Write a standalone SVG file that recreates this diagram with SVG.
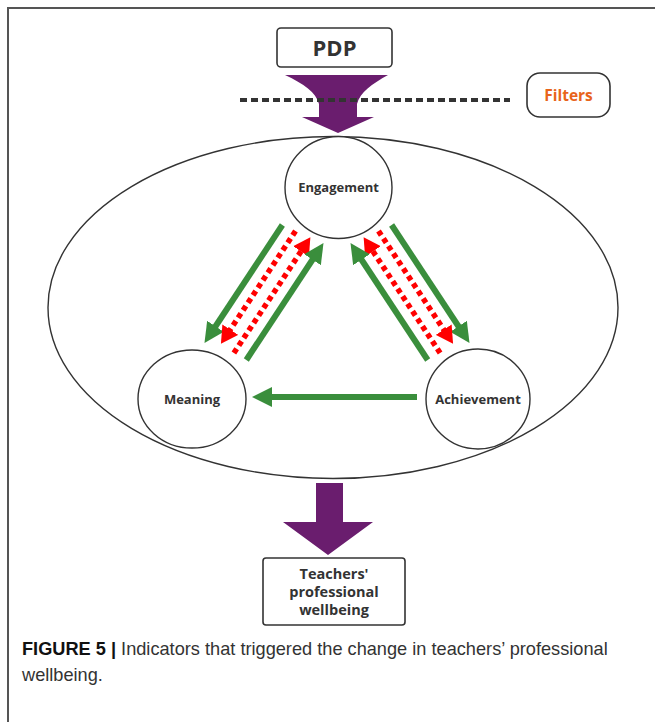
<svg xmlns="http://www.w3.org/2000/svg" width="657" height="722" viewBox="0 0 657 722">
<style>
.frame{stroke:#555;stroke-width:2;fill:none}
.node{fill:#fff;stroke:#333;stroke-width:1.4}
.box{fill:#fff;stroke:#333;stroke-width:1.6}
.lbl{font-family:"Open Sans","Noto Sans",sans-serif;font-weight:700;fill:#333;text-anchor:middle}
.g{stroke:#3a8e3c;stroke-width:6;fill:none}
.r{stroke:#ff0000;stroke-width:5.5;stroke-dasharray:5 4;fill:none}
.purple{fill:#6a1d6e}
.cap{font-family:"Liberation Sans",Arial,sans-serif;font-size:18.2px;fill:#333}
</style>
<defs>
<marker id="gh" markerUnits="userSpaceOnUse" viewBox="0 0 20 20" markerWidth="20" markerHeight="20" refX="2" refY="10" orient="auto">
<path d="M0,0 L20,10 L0,20 z" fill="#3a8e3c"/>
</marker>
<marker id="rh" markerUnits="userSpaceOnUse" viewBox="0 0 17 19" markerWidth="17" markerHeight="19" refX="2" refY="9.5" orient="auto">
<path d="M0,0 L17,9.5 L0,19 z" fill="#ff0000"/>
</marker>
</defs>
<rect width="657" height="722" fill="#fff"/>
<path class="frame" d="M8,722 L8,8 L655,8"/>

<g id="context">
<ellipse cx="333" cy="307.5" rx="285" ry="171" fill="none" stroke="#333" stroke-width="1.4"/>
</g>

<g id="pdp">
<rect class="box" x="277" y="28" width="115" height="39" rx="4"/>
<text class="lbl" x="334.5" y="56" font-size="22">PDP</text>
</g>

<g id="pdp-arrow">
<path class="purple" d="M285,75 L388,75 C372,84 360,92 357,104 L357,117 L374,117 L338,133 L302,117 L319,117 L319,104 C316,92 304,84 285,75 Z"/>
</g>

<g id="filter-line">
<line x1="240" y1="100" x2="510" y2="100" stroke="#333" stroke-width="4" stroke-dasharray="7 4"/>
</g>

<g id="filters">
<rect class="box" x="527" y="73" width="83" height="44" rx="13"/>
<text class="lbl" x="568.5" y="101" font-size="15.5" style="fill:#e8641b">Filters</text>
</g>

<g id="connectors">
<line class="g" x1="282.4" y1="225" x2="214.4" y2="328" marker-end="url(#gh)"/>
<line class="r" x1="295.5" y1="231" x2="229.2" y2="331.3" marker-end="url(#rh)"/>
<line class="r" x1="233.9" y1="353" x2="302.1" y2="249.7" marker-end="url(#rh)"/>
<line class="g" x1="246.3" y1="360" x2="313.6" y2="258" marker-end="url(#gh)"/>
<line class="g" x1="391.6" y1="225" x2="459.6" y2="328" marker-end="url(#gh)"/>
<line class="r" x1="378.5" y1="231" x2="444.8" y2="331.3" marker-end="url(#rh)"/>
<line class="r" x1="440.1" y1="353" x2="371.9" y2="249.7" marker-end="url(#rh)"/>
<line class="g" x1="427.7" y1="360" x2="360.4" y2="258" marker-end="url(#gh)"/>
<line class="g" x1="417" y1="397" x2="270" y2="397" marker-end="url(#gh)"/>
</g>

<g id="engagement">
<ellipse class="node" cx="338.5" cy="187.5" rx="53.5" ry="51"/>
<text class="lbl" x="338.5" y="192" font-size="13">Engagement</text>
</g>

<g id="meaning">
<ellipse class="node" cx="192" cy="399" rx="54" ry="49"/>
<text class="lbl" x="192" y="404" font-size="13">Meaning</text>
</g>

<g id="achievement">
<ellipse class="node" cx="478" cy="399" rx="52" ry="50"/>
<text class="lbl" x="478" y="404" font-size="13">Achievement</text>
</g>

<g id="out-arrow">
<path class="purple" d="M316,483 L343,483 L343,522 L373,522 L328,555 L283,522 L316,522 Z"/>
</g>

<g id="wellbeing">
<rect class="box" x="263" y="558" width="142" height="67" rx="3"/>
<text class="lbl" x="334" y="579" font-size="14.5">Teachers'</text>
<text class="lbl" x="334" y="597" font-size="14.5">professional</text>
<text class="lbl" x="334" y="615" font-size="14.5">wellbeing</text>
</g>

<g id="caption">
<text class="cap" x="22" y="655"><tspan font-weight="700" fill="#111">FIGURE 5 |</tspan> Indicators that triggered the change in teachers’ professional</text>
<text class="cap" x="22" y="681">wellbeing.</text>
</g>
</svg>
